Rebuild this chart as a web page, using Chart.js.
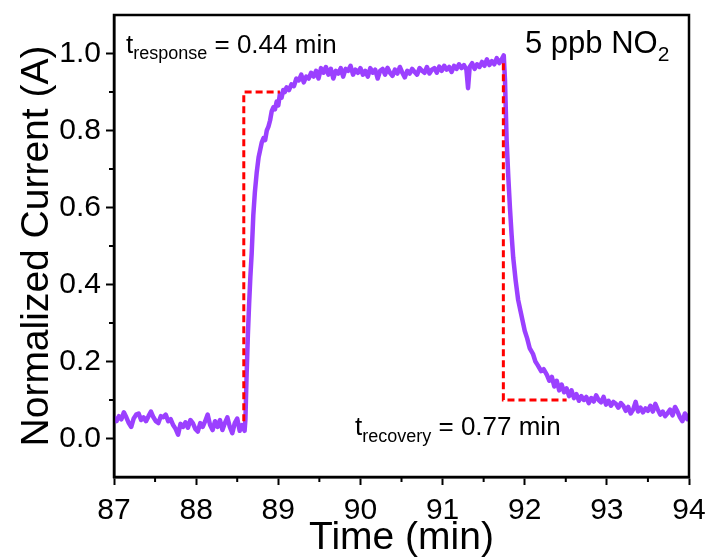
<!DOCTYPE html>
<html>
<head>
<meta charset="utf-8">
<script src="https://cdn.jsdelivr.net/npm/chart.js@4.4.1/dist/chart.umd.min.js"></script>
<style>
  html, body { margin: 0; padding: 0; background: #fff; }
  #wrap { width: 708px; height: 558px; }
</style>
</head>
<body>
<div id="wrap"><canvas id="responseCurve"></canvas></div>
<script>
// time axis (min) and normalized current
const times = [
  87.00,87.03,87.06,87.09,87.12,87.15,87.18,87.21,87.24,87.27,87.30,87.33,87.36,87.39,87.42,87.45,87.48,87.51,
  87.54,87.57,87.60,87.63,87.66,87.69,87.72,87.75,87.78,87.81,87.84,87.87,87.90,87.93,87.96,87.99,88.02,88.05,
  88.08,88.11,88.14,88.17,88.20,88.23,88.26,88.29,88.32,88.35,88.38,88.41,88.44,88.47,88.50,88.53,88.56,88.59,
  // rise
  88.600,88.615,88.630,88.645,88.660,88.676,88.696,88.715,88.737,88.76,88.78,88.80,88.82,88.84,88.86,88.88,
  88.90,88.92,88.94,88.96,88.98,89.00,89.02,89.04,89.06,89.08,89.10,89.13,89.16,89.19,89.22,89.25,89.28,89.31,
  89.34,89.37,89.40,89.43,89.46,89.49,89.52,89.55,89.58,89.61,89.64,89.67,89.70,89.73,89.76,89.79,89.82,89.85,
  89.88,89.91,89.94,89.97,90.00,
  // plateau
  90.03,90.06,90.09,90.12,90.15,90.18,90.21,90.24,90.27,90.30,90.33,90.36,90.39,90.42,90.45,90.48,90.51,90.54,
  90.57,90.60,90.63,90.66,90.69,90.72,90.75,90.78,90.81,90.84,90.87,90.90,90.93,90.96,90.99,91.02,91.05,91.08,
  91.11,91.14,91.17,91.20,91.23,91.26,91.29,91.31,91.33,91.36,91.39,91.42,91.45,91.48,91.51,91.54,91.57,91.60,
  91.63,91.66,91.69,91.72,91.745,
  // recovery
  91.76,91.78,91.80,91.82,91.84,91.86,91.89,91.92,91.95,91.98,92.00,92.03,92.06,92.10,92.13,92.16,92.20,92.23,
  92.27,92.30,92.33,92.36,92.39,92.42,92.45,92.48,92.51,92.54,92.57,92.60,92.63,
  92.66,92.69,92.72,92.75,92.78,92.81,92.84,92.87,92.90,92.93,92.96,92.99,93.02,93.05,93.08,93.11,93.14,93.17,
  93.20,93.23,93.26,93.29,93.32,93.35,93.38,93.41,93.44,93.47,93.50,93.53,93.56,93.59,93.62,93.65,93.68,93.71,
  93.74,93.77,93.80,93.83,93.86,93.89,93.92,93.95,93.98,94.00
];
const current = [
  0.055,0.045,0.058,0.050,0.068,0.055,0.040,0.030,0.052,0.062,0.065,0.048,0.055,0.045,0.058,0.070,0.055,0.045,
  0.040,0.058,0.055,0.062,0.045,0.050,0.035,0.025,0.010,0.038,0.030,0.042,0.028,0.048,0.040,0.025,0.018,0.040,
  0.030,0.045,0.062,0.035,0.022,0.045,0.030,0.048,0.022,0.040,0.055,0.030,0.014,0.040,0.052,0.020,0.035,0.020,
  0.05,0.17,0.27,0.35,0.42,0.48,0.58,0.64,0.69,0.73,0.75,0.77,0.78,0.775,0.80,0.81,
  0.826,0.85,0.86,0.855,0.875,0.865,0.895,0.885,0.905,0.90,0.912,0.905,0.92,0.915,0.935,0.93,0.945,0.925,
  0.94,0.935,0.95,0.94,0.955,0.935,0.962,0.95,0.965,0.945,0.96,0.935,0.955,0.948,0.962,0.94,0.96,0.955,
  0.968,0.945,0.958,0.95,0.962,
  0.945,0.955,0.94,0.962,0.95,0.958,0.935,0.955,0.96,0.945,0.963,0.95,0.942,0.958,0.948,0.965,0.95,0.938,
  0.955,0.948,0.96,0.952,0.945,0.962,0.955,0.95,0.965,0.948,0.958,0.962,0.95,0.966,0.955,0.968,0.958,0.965,
  0.952,0.968,0.96,0.972,0.962,0.97,0.958,0.91,0.965,0.975,0.96,0.972,0.965,0.978,0.968,0.985,0.97,0.98,
  0.972,0.988,0.975,0.985,0.995,
  0.93,0.774,0.68,0.60,0.53,0.47,0.41,0.36,0.33,0.30,0.28,0.26,0.235,0.22,0.20,0.19,0.175,0.18,
  0.165,0.15,0.16,0.135,0.15,0.125,0.14,0.12,0.13,0.11,0.125,0.105,0.115,
  0.098,0.11,0.10,0.108,0.092,0.105,0.096,0.112,0.10,0.094,0.108,0.088,0.098,0.085,0.095,0.09,0.08,0.092,
  0.085,0.072,0.082,0.065,0.075,0.095,0.07,0.08,0.068,0.078,0.072,0.085,0.07,0.09,0.075,0.062,0.07,0.058,
  0.066,0.075,0.06,0.082,0.07,0.055,0.045,0.065,0.05,0.06
];

// dashed guides for response / recovery time
const respX = [88.58, 88.58, 89.02];
const respY = [0.045, 0.90, 0.90];
const recX = [91.74, 91.74, 92.51];
const recY = [0.975, 0.10, 0.10];

const xMajor = [87, 88, 89, 90, 91, 92, 93, 94];
const xMinor = [87.5, 88.5, 89.5, 90.5, 91.5, 92.5, 93.5];
const yMajor = [0.0, 0.2, 0.4, 0.6, 0.8, 1.0];
const yMinor = [0.1, 0.3, 0.5, 0.7, 0.9];

const FONT = "'Liberation Sans', Arial, sans-serif";
Chart.defaults.font.family = FONT;
Chart.defaults.color = '#000';

const toPts = (xs, ys) => xs.map((x, i) => ({ x: x, y: ys[i] }));

// frame, minor ticks and the text labels inside the plot
const extras = {
  id: 'extras',
  afterDraw(chart) {
    const { ctx, chartArea: a, scales } = chart;
    ctx.save();
    ctx.strokeStyle = '#000';
    ctx.lineWidth = 2.5;
    ctx.strokeRect(a.left, a.top, a.right - a.left, a.bottom - a.top);
    ctx.lineWidth = 2;
    ctx.beginPath();
    xMinor.forEach(v => {
      const px = scales.x.getPixelForValue(v);
      ctx.moveTo(px, a.bottom);
      ctx.lineTo(px, a.bottom + 5);
    });
    yMinor.forEach(v => {
      const py = scales.y.getPixelForValue(v);
      ctx.moveTo(a.left, py);
      ctx.lineTo(a.left - 5, py);
    });
    ctx.stroke();

    ctx.fillStyle = '#000';
    ctx.textBaseline = 'alphabetic';
    ctx.textAlign = 'left';
    const sub = (x, y, main, small, rest, big, little, drop) => {
      ctx.font = big + 'px ' + FONT;
      ctx.fillText(main, x, y);
      x += ctx.measureText(main).width;
      ctx.font = little + 'px ' + FONT;
      ctx.fillText(small, x, y + drop);
      x += ctx.measureText(small).width;
      if (rest) {
        ctx.font = big + 'px ' + FONT;
        ctx.fillText(rest, x, y);
      }
    };
    sub(a.left + 12, 53, 't', 'response', ' = 0.44 min', 26, 18, 6);
    sub(355, 435, 't', 'recovery', ' = 0.77 min', 26, 18, 7);
    sub(525, 53, '5 ppb NO', '2', '', 31, 21, 8);
    ctx.restore();
  }
};

new Chart(document.getElementById('responseCurve'), {
  type: 'line',
  data: {
    datasets: [
      { data: toPts(respX, respY), borderColor: '#ff0000', borderWidth: 3, borderDash: [7, 4],
        pointRadius: 0, fill: false, order: 0 },
      { data: toPts(recX, recY), borderColor: '#ff0000', borderWidth: 3, borderDash: [7, 4],
        pointRadius: 0, fill: false, order: 0 },
      { data: toPts(times, current), borderColor: '#9b40ff', borderWidth: 4.5,
        borderJoinStyle: 'round', borderCapStyle: 'round',
        pointRadius: 0, fill: false, tension: 0, order: 1 }
    ]
  },
  options: {
    responsive: true,
    maintainAspectRatio: false,
    animation: false,
    layout: { padding: { top: 15, right: 19, left: 0, bottom: 0 } },
    plugins: { legend: { display: false }, tooltip: { enabled: false } },
    scales: {
      x: {
        type: 'linear',
        min: 87, max: 94,
        afterBuildTicks: s => { s.ticks = xMajor.map(v => ({ value: v })); },
        afterFit: s => { s.height = 81; s.paddingLeft = 0; s.paddingRight = 0; },
        ticks: { font: { size: 30 }, color: '#000', padding: 8, maxRotation: 0 },
        grid: { drawOnChartArea: false, tickLength: 8, tickWidth: 2, tickColor: '#000' },
        border: { color: '#000', width: 2.5 },
        title: { display: true, text: 'Time (min)', font: { size: 39 }, color: '#000',
                 padding: { top: 0, bottom: -4 } }
      },
      y: {
        min: -0.1, max: 1.1,
        afterBuildTicks: s => { s.ticks = yMajor.map(v => ({ value: v })); },
        afterFit: s => { s.width = 114; s.paddingTop = 0; s.paddingBottom = 0; },
        ticks: { font: { size: 30 }, color: '#000', padding: 5,
                 callback: v => Number(v).toFixed(1) },
        grid: { drawOnChartArea: false, tickLength: 8, tickWidth: 2, tickColor: '#000' },
        border: { color: '#000', width: 2.5 },
        title: { display: true, text: 'Normalized Current (A)', font: { size: 39 }, color: '#000',
                 padding: { top: 14, bottom: 0 } }
      }
    }
  },
  plugins: [extras]
});
</script>
</body>
</html>
